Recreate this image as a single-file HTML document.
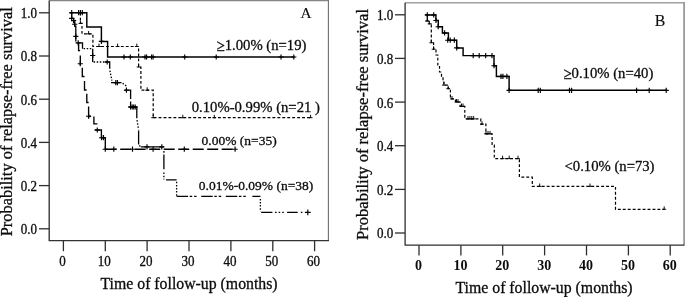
<!DOCTYPE html>
<html lang="en"><head><meta charset="utf-8"><title>Relapse-free survival</title>
<style>
html,body{margin:0;padding:0;background:#fff;}
body{width:685px;height:297px;overflow:hidden;}
svg{display:block;will-change:transform;}
text{font-family:'Liberation Serif','Times New Roman',serif;fill:#0c0c0c;stroke:#0c0c0c;stroke-width:0.3px;}
.tk{font-size:13.3px;}
.tkb{font-size:14.0px;font-weight:bold;stroke:none;}
.lb{font-size:14.7px;}
.ls{font-size:13.5px;}
.ax{font-size:15.8px;}
.ay{font-size:16.42px;}
.ayb{font-size:16.54px;}
.pn{font-size:15.3px;stroke-width:0.08px;}
</style></head><body>
<svg width="685" height="297" viewBox="0 0 685 297">
<rect x="0" y="0" width="685" height="297" fill="#fff"/>

<g id="panelA">
<path d="M49.2,0.5H328.4" fill="none" stroke="#858585" stroke-width="1.7"/>
<path d="M328.4,0V240.6" fill="none" stroke="#6e6e6e" stroke-width="1.1"/>
<path d="M49.2,0.4V240.6H329.0" fill="none" stroke="#333" stroke-width="1.35"/>
<path d="M39,12.8H49.2" stroke="#2e2e2e" stroke-width="1.3"/>
<text class="tk" transform="translate(37,18.2) scale(0.98,1.05)" text-anchor="end">1.0</text>
<path d="M39,56.0H49.2" stroke="#2e2e2e" stroke-width="1.3"/>
<text class="tk" transform="translate(37,61.4) scale(0.98,1.05)" text-anchor="end">0.8</text>
<path d="M39,99.2H49.2" stroke="#2e2e2e" stroke-width="1.3"/>
<text class="tk" transform="translate(37,104.6) scale(0.98,1.05)" text-anchor="end">0.6</text>
<path d="M39,142.4H49.2" stroke="#2e2e2e" stroke-width="1.3"/>
<text class="tk" transform="translate(37,147.8) scale(0.98,1.05)" text-anchor="end">0.4</text>
<path d="M39,185.6H49.2" stroke="#2e2e2e" stroke-width="1.3"/>
<text class="tk" transform="translate(37,191.0) scale(0.98,1.05)" text-anchor="end">0.2</text>
<path d="M39,228.8H49.2" stroke="#2e2e2e" stroke-width="1.3"/>
<text class="tk" transform="translate(37,234.2) scale(0.98,1.05)" text-anchor="end">0.0</text>
<path d="M63.4,240.6V251.2" stroke="#2e2e2e" stroke-width="1.3"/>
<text class="tk" transform="translate(62.4,265.8) scale(0.98,1.05)" text-anchor="middle">0</text>
<path d="M105.3,240.6V251.2" stroke="#2e2e2e" stroke-width="1.3"/>
<text class="tk" transform="translate(104.3,265.8) scale(0.98,1.05)" text-anchor="middle">10</text>
<path d="M147.1,240.6V251.2" stroke="#2e2e2e" stroke-width="1.3"/>
<text class="tk" transform="translate(146.1,265.8) scale(0.98,1.05)" text-anchor="middle">20</text>
<path d="M189.0,240.6V251.2" stroke="#2e2e2e" stroke-width="1.3"/>
<text class="tk" transform="translate(188.0,265.8) scale(0.98,1.05)" text-anchor="middle">30</text>
<path d="M230.9,240.6V251.2" stroke="#2e2e2e" stroke-width="1.3"/>
<text class="tk" transform="translate(229.9,265.8) scale(0.98,1.05)" text-anchor="middle">40</text>
<path d="M272.8,240.6V251.2" stroke="#2e2e2e" stroke-width="1.3"/>
<text class="tk" transform="translate(271.8,265.8) scale(0.98,1.05)" text-anchor="middle">50</text>
<path d="M314.6,240.6V251.2" stroke="#2e2e2e" stroke-width="1.3"/>
<text class="tk" transform="translate(313.6,265.8) scale(0.98,1.05)" text-anchor="middle">60</text>
<text class="ax" x="100.5" y="289.0">Time of follow-up (months)</text>
<text class="ay" transform="translate(12.3,236.3) rotate(-90)">Probability of relapse-free survival</text>
<text class="pn" x="300.6" y="17.8">A</text>
<text class="lb" transform="translate(216.6,50.8) scale(1,1.13)">≥</text>
<text class="lb" x="224.7" y="50.2">1.00% (n=19)</text>
<text class="lb" x="191.7" y="111.8">0.10%-0.99% (n=21 )</text>
<text class="ls" x="201.6" y="144.5">0.00% (n=35)</text>
<text class="ls" x="198.8" y="189.5">0.01%-0.09% (n=38)</text>
<path d="M69.7,12.7H86.8V27H101.4V41.4H107.6V57H294.5" fill="none" stroke="#000" stroke-width="1.45"/>
<path d="M69.1,12.7H74.3M71.7,10.1V15.3" stroke="#000" stroke-width="1.15" fill="none"/>
<path d="M76.0,12.7H81.2M78.6,10.1V15.3" stroke="#000" stroke-width="1.15" fill="none"/>
<path d="M77.8,12.7H83.0M80.4,10.1V15.3" stroke="#000" stroke-width="1.15" fill="none"/>
<path d="M79.7,12.7H84.9M82.3,10.1V15.3" stroke="#000" stroke-width="1.15" fill="none"/>
<path d="M98.8,41.4H104.0M101.4,38.8V44.0" stroke="#000" stroke-width="1.15" fill="none"/>
<path d="M121.4,57.0H126.6M124.0,54.4V59.6" stroke="#000" stroke-width="1.15" fill="none"/>
<path d="M127.7,57.0H132.9M130.3,54.4V59.6" stroke="#000" stroke-width="1.15" fill="none"/>
<path d="M142.4,57.0H147.6M145.0,54.4V59.6" stroke="#000" stroke-width="1.15" fill="none"/>
<path d="M144.0,57.0H149.2M146.6,54.4V59.6" stroke="#000" stroke-width="1.15" fill="none"/>
<path d="M149.0,57.0H154.2M151.6,54.4V59.6" stroke="#000" stroke-width="1.15" fill="none"/>
<path d="M150.5,57.0H155.7M153.1,54.4V59.6" stroke="#000" stroke-width="1.15" fill="none"/>
<path d="M182.1,57.0H187.3M184.7,54.4V59.6" stroke="#000" stroke-width="1.15" fill="none"/>
<path d="M213.6,57.0H218.8M216.2,54.4V59.6" stroke="#000" stroke-width="1.15" fill="none"/>
<path d="M278.4,57.0H283.6M281.0,54.4V59.6" stroke="#000" stroke-width="1.15" fill="none"/>
<path d="M291.2,57.0H296.4M293.8,54.4V59.6" stroke="#000" stroke-width="1.15" fill="none"/>
<path d="M80.4,12.7V23.4H82V33.9H92.9V46.5H138.6V67H140.9V90.2H153.2V117.7H310.8" fill="none" stroke="#000" stroke-width="1.2" stroke-dasharray="2.9 2.05"/>
<path d="M78.5,23.4H82.3M80.4,23.7V20.5" stroke="#000" stroke-width="0.95" fill="none"/>
<path d="M86.7,33.9H90.5M88.6,34.2V31.0" stroke="#000" stroke-width="0.95" fill="none"/>
<path d="M97.1,46.5H100.9M99.0,46.8V43.6" stroke="#000" stroke-width="0.95" fill="none"/>
<path d="M115.7,46.5H119.5M117.6,46.8V43.6" stroke="#000" stroke-width="0.95" fill="none"/>
<path d="M134.9,46.5H138.7M136.8,46.8V43.6" stroke="#000" stroke-width="0.95" fill="none"/>
<path d="M136.7,67.0H140.5M138.6,67.3V64.1" stroke="#000" stroke-width="0.95" fill="none"/>
<path d="M145.3,90.2H149.1M147.2,90.5V87.3" stroke="#000" stroke-width="0.95" fill="none"/>
<path d="M151.3,117.7H155.1M153.2,118.0V114.8" stroke="#000" stroke-width="0.95" fill="none"/>
<path d="M180.9,117.7H184.7M182.8,118.0V114.8" stroke="#000" stroke-width="0.95" fill="none"/>
<path d="M212.4,117.7H216.2M214.3,118.0V114.8" stroke="#000" stroke-width="0.95" fill="none"/>
<path d="M308.7,117.7H312.5M310.6,118.0V114.8" stroke="#000" stroke-width="0.95" fill="none"/>
<path d="M70,12.7H71.7V18.4H73.6V22.2H74.7V26.2H75.8V41.4M76.6,42.8H82.5V48.7" fill="none" stroke="#000" stroke-width="1.3"/>
<path d="M69.1,18.4H74.3M71.7,15.8V21.0" stroke="#000" stroke-width="1.15" fill="none"/>
<path d="M71.0,20.6H76.2M73.6,18.0V23.2" stroke="#000" stroke-width="1.15" fill="none"/>
<path d="M72.1,24.2H77.3M74.7,21.6V26.8" stroke="#000" stroke-width="1.15" fill="none"/>
<path d="M73.2,36.3H78.4M75.8,33.7V38.9" stroke="#000" stroke-width="1.15" fill="none"/>
<path d="M75.6,42.8H80.8M78.2,40.2V45.4" stroke="#000" stroke-width="1.15" fill="none"/>
<path d="M78.6,42.8V50.6H80.1 M80.3,55.5V65.3 M82.3,67.8V76.5H84.5 M84.5,81V90H86.6 M86.8,93.8V102.5H88.6 M88.6,106.5V118.3 M88.6,116.2H91 M93.9,116.4V123.9H97.4 M94.7,130H101.4V137.7H105.3V149.2" fill="none" stroke="#000" stroke-width="1.35"/>
<path d="M105.7,149.2H235.1" fill="none" stroke="#000" stroke-width="1.35" stroke-dasharray="11 3.5"/>
<path d="M77.7,63.7H82.9M80.3,61.1V66.3" stroke="#000" stroke-width="1.15" fill="none"/>
<path d="M86.0,116.2H91.2M88.6,113.6V118.8" stroke="#000" stroke-width="1.15" fill="none"/>
<path d="M94.7,130.0H99.9M97.3,127.4V132.6" stroke="#000" stroke-width="1.15" fill="none"/>
<path d="M99.0,137.7H104.2M101.6,135.1V140.3" stroke="#000" stroke-width="1.15" fill="none"/>
<path d="M100.9,137.7H106.1M103.5,135.1V140.3" stroke="#000" stroke-width="1.15" fill="none"/>
<path d="M102.7,149.2H107.9M105.3,146.6V151.8" stroke="#000" stroke-width="1.15" fill="none"/>
<path d="M111.2,149.2H116.4M113.8,146.6V151.8" stroke="#000" stroke-width="1.15" fill="none"/>
<path d="M129.9,149.2H135.1M132.5,146.6V151.8" stroke="#000" stroke-width="1.15" fill="none"/>
<path d="M150.5,149.2H155.7M153.1,146.6V151.8" stroke="#000" stroke-width="1.15" fill="none"/>
<path d="M181.7,149.2H186.9M184.3,146.6V151.8" stroke="#000" stroke-width="1.15" fill="none"/>
<path d="M232.5,149.2H237.7M235.1,146.6V151.8" stroke="#000" stroke-width="1.15" fill="none"/>
<path d="M92.7,48.7V62 M105,62H109.7V68.8 M111,82.6H121.5 M124.5,90.2H130.6V98.9 M130.6,101.6V107 M128.6,107H136.8V118.3 M138.6,130.6V144.4 M140.9,146.9H163.9 M163.9,151V152.8 M163.9,154.6V169.2 M166,179.8H176.6 M252.4,196.3H260.4 M261.2,212.4H272.4 M287.1,212.4H297.7" fill="none" stroke="#000" stroke-width="1.3"/>
<path d="M83.6,48.7H92 M93.6,62H105 M109.9,70.6L111.9,80.6 M122.6,83.2L127,86.6 M137,120.2L138.6,129.6 M139.2,145.6L140.9,146.9 M163.9,172.6V179.4 M176.6,181.8V196 M260.4,198.9V211.5" fill="none" stroke="#000" stroke-width="1.3" stroke-dasharray="1.5 1.6"/>
<path d="M176.6,196.3H250" fill="none" stroke="#000" stroke-width="1.3" stroke-dasharray="11.5 1.6 2.5 1.9 2.5 4.6"/>
<path d="M275,212.4H284M300.8,212.4H303" fill="none" stroke="#000" stroke-width="1.3" stroke-dasharray="1.6 2"/>
<path d="M90.1,55.5H95.3M92.7,52.9V58.1" stroke="#000" stroke-width="1.15" fill="none"/>
<path d="M104.6,62.0H109.8M107.2,59.4V64.6" stroke="#000" stroke-width="1.15" fill="none"/>
<path d="M113.2,82.6H118.4M115.8,80.0V85.2" stroke="#000" stroke-width="1.15" fill="none"/>
<path d="M114.8,82.6H120.0M117.4,80.0V85.2" stroke="#000" stroke-width="1.15" fill="none"/>
<path d="M123.8,90.2H129.0M126.4,87.6V92.8" stroke="#000" stroke-width="1.15" fill="none"/>
<path d="M128.0,107.0H133.2M130.6,104.4V109.6" stroke="#000" stroke-width="1.15" fill="none"/>
<path d="M129.6,107.0H134.8M132.2,104.4V109.6" stroke="#000" stroke-width="1.15" fill="none"/>
<path d="M131.1,107.0H136.3M133.7,104.4V109.6" stroke="#000" stroke-width="1.15" fill="none"/>
<path d="M132.6,107.0H137.8M135.2,104.4V109.6" stroke="#000" stroke-width="1.15" fill="none"/>
<path d="M144.4,146.9H149.6M147.0,144.3V149.5" stroke="#000" stroke-width="1.15" fill="none"/>
<path d="M159.2,146.9H164.4M161.8,144.3V149.5" stroke="#000" stroke-width="1.15" fill="none"/>
<path d="M304.9,212.4H310.7M307.8,209.5V215.3" stroke="#000" stroke-width="1.15" fill="none"/>
</g>
<g id="panelB">
<path d="M405.1,2.8H685" fill="none" stroke="#a0a0a0" stroke-width="1.6"/>
<path d="M684.1,2.0V245.2" fill="none" stroke="#9a9a9a" stroke-width="1.8"/>
<path d="M405.1,2.8V245.2H684.4" fill="none" stroke="#2e2e2e" stroke-width="1.3"/>
<path d="M395,14.8H405.1" stroke="#2e2e2e" stroke-width="1.3"/>
<text class="tk" transform="translate(393.2,20.2) scale(0.98,1.05)" text-anchor="end">1.0</text>
<path d="M395,58.4H405.1" stroke="#2e2e2e" stroke-width="1.3"/>
<text class="tk" transform="translate(393.2,63.8) scale(0.98,1.05)" text-anchor="end">0.8</text>
<path d="M395,102.1H405.1" stroke="#2e2e2e" stroke-width="1.3"/>
<text class="tk" transform="translate(393.2,107.5) scale(0.98,1.05)" text-anchor="end">0.6</text>
<path d="M395,145.7H405.1" stroke="#2e2e2e" stroke-width="1.3"/>
<text class="tk" transform="translate(393.2,151.1) scale(0.98,1.05)" text-anchor="end">0.4</text>
<path d="M395,189.4H405.1" stroke="#2e2e2e" stroke-width="1.3"/>
<text class="tk" transform="translate(393.2,194.8) scale(0.98,1.05)" text-anchor="end">0.2</text>
<path d="M395,233.0H405.1" stroke="#2e2e2e" stroke-width="1.3"/>
<text class="tk" transform="translate(393.2,238.4) scale(0.98,1.05)" text-anchor="end">0.0</text>
<path d="M419.0,245.2V255.4" stroke="#2e2e2e" stroke-width="1.3"/>
<text class="tkb" x="418.6" y="269.8" text-anchor="middle">0</text>
<path d="M460.9,245.2V255.4" stroke="#2e2e2e" stroke-width="1.3"/>
<text class="tkb" x="460.5" y="269.8" text-anchor="middle">10</text>
<path d="M502.7,245.2V255.4" stroke="#2e2e2e" stroke-width="1.3"/>
<text class="tkb" x="502.3" y="269.8" text-anchor="middle">20</text>
<path d="M544.6,245.2V255.4" stroke="#2e2e2e" stroke-width="1.3"/>
<text class="tkb" x="544.2" y="269.8" text-anchor="middle">30</text>
<path d="M586.5,245.2V255.4" stroke="#2e2e2e" stroke-width="1.3"/>
<text class="tkb" x="586.1" y="269.8" text-anchor="middle">40</text>
<path d="M628.4,245.2V255.4" stroke="#2e2e2e" stroke-width="1.3"/>
<text class="tkb" x="628.0" y="269.8" text-anchor="middle">50</text>
<path d="M670.2,245.2V255.4" stroke="#2e2e2e" stroke-width="1.3"/>
<text class="tkb" x="669.8" y="269.8" text-anchor="middle">60</text>
<text class="ax" x="455.5" y="292.9">Time of follow-up (months)</text>
<text class="ayb" transform="translate(367.9,239.9) rotate(-90)">Probability of relapse-free survival</text>
<text class="pn" style="font-size:15.9px" x="654.7" y="25.7">B</text>
<text class="lb" transform="translate(563.5,78.8) scale(1,1.13)">≥</text>
<text class="lb" x="571.6" y="78.2">0.10% (n=40)</text>
<text class="lb" x="564.5" y="170.6">&lt;0.10% (n=73)</text>
<path d="M425.2,14.9H435.9V20.5H438.3V26.7H442.4V32.9H448.4V40.2H456.7V47.9H463.1V55.6H494V65.7H496.4V76.4H509.1V90.3H666.2" fill="none" stroke="#000" stroke-width="1.45"/>
<path d="M424.7,14.9H429.9M427.3,12.3V17.5" stroke="#000" stroke-width="1.15" fill="none"/>
<path d="M431.1,14.9H436.3M433.7,12.3V17.5" stroke="#000" stroke-width="1.15" fill="none"/>
<path d="M433.4,20.5H438.6M436.0,17.9V23.1" stroke="#000" stroke-width="1.15" fill="none"/>
<path d="M435.6,26.7H440.8M438.2,24.1V29.3" stroke="#000" stroke-width="1.15" fill="none"/>
<path d="M442.0,32.9H447.2M444.6,30.3V35.5" stroke="#000" stroke-width="1.15" fill="none"/>
<path d="M445.1,40.2H450.3M447.7,37.6V42.8" stroke="#000" stroke-width="1.15" fill="none"/>
<path d="M447.6,40.2H452.8M450.2,37.6V42.8" stroke="#000" stroke-width="1.15" fill="none"/>
<path d="M451.7,40.2H456.9M454.3,37.6V42.8" stroke="#000" stroke-width="1.15" fill="none"/>
<path d="M454.1,47.9H459.3M456.7,45.3V50.5" stroke="#000" stroke-width="1.15" fill="none"/>
<path d="M470.6,55.6H475.8M473.2,53.0V58.2" stroke="#000" stroke-width="1.15" fill="none"/>
<path d="M476.6,55.6H481.8M479.2,53.0V58.2" stroke="#000" stroke-width="1.15" fill="none"/>
<path d="M483.1,55.6H488.3M485.7,53.0V58.2" stroke="#000" stroke-width="1.15" fill="none"/>
<path d="M489.4,55.6H494.6M492.0,53.0V58.2" stroke="#000" stroke-width="1.15" fill="none"/>
<path d="M491.4,65.7H496.6M494.0,63.1V68.3" stroke="#000" stroke-width="1.15" fill="none"/>
<path d="M498.4,76.4H503.6M501.0,73.8V79.0" stroke="#000" stroke-width="1.15" fill="none"/>
<path d="M500.3,76.4H505.5M502.9,73.8V79.0" stroke="#000" stroke-width="1.15" fill="none"/>
<path d="M504.3,76.4H509.5M506.9,73.8V79.0" stroke="#000" stroke-width="1.15" fill="none"/>
<path d="M506.5,90.3H511.7M509.1,87.7V92.9" stroke="#000" stroke-width="1.15" fill="none"/>
<path d="M535.6,90.3H540.8M538.2,87.7V92.9" stroke="#000" stroke-width="1.15" fill="none"/>
<path d="M537.7,90.3H542.9M540.3,87.7V92.9" stroke="#000" stroke-width="1.15" fill="none"/>
<path d="M566.9,90.3H572.1M569.5,87.7V92.9" stroke="#000" stroke-width="1.15" fill="none"/>
<path d="M569.0,90.3H574.2M571.6,87.7V92.9" stroke="#000" stroke-width="1.15" fill="none"/>
<path d="M634.0,90.3H639.2M636.6,87.7V92.9" stroke="#000" stroke-width="1.15" fill="none"/>
<path d="M646.6,90.3H651.8M649.2,87.7V92.9" stroke="#000" stroke-width="1.15" fill="none"/>
<path d="M663.6,90.3H668.8M666.2,87.7V92.9" stroke="#000" stroke-width="1.15" fill="none"/>
<path d="M427.3,14.9V21M425.4,21H429.3M429.3,21V23.9M427.8,23.9H431.6" fill="none" stroke="#000" stroke-width="1.15"/>
<path d="M431.3,24.6V42.8H433.6V49.2H436V55H437.8V65H439.5V72H441.5V77H443V82H443.9V85.1H448.2V88.7H450.4V98.9H455.5V102H460.1V106.4H464.8V118.9H480.8V124.2H485.9V133.8H492.1V145H494.3V158.6H519.4V177.1H532.3V186.4H615.5V209.3H664.2" fill="none" stroke="#000" stroke-width="1.2" stroke-dasharray="2.9 2.05"/>
<path d="M425.4,21.0H429.2M427.3,21.3V18.1" stroke="#000" stroke-width="0.95" fill="none"/>
<path d="M429.4,42.8H433.2M431.3,43.1V39.9" stroke="#000" stroke-width="0.95" fill="none"/>
<path d="M431.7,49.2H435.5M433.6,49.5V46.3" stroke="#000" stroke-width="0.95" fill="none"/>
<path d="M442.0,85.1H445.8M443.9,85.4V82.2" stroke="#000" stroke-width="0.95" fill="none"/>
<path d="M446.3,88.7H450.1M448.2,89.0V85.8" stroke="#000" stroke-width="0.95" fill="none"/>
<path d="M450.1,98.9H453.9M452.0,99.2V96.0" stroke="#000" stroke-width="0.95" fill="none"/>
<path d="M454.6,102.0H458.4M456.5,102.3V99.1" stroke="#000" stroke-width="0.95" fill="none"/>
<path d="M456.1,102.0H459.9M458.0,102.3V99.1" stroke="#000" stroke-width="0.95" fill="none"/>
<path d="M459.6,106.4H463.4M461.5,106.7V103.5" stroke="#000" stroke-width="0.95" fill="none"/>
<path d="M461.1,106.4H464.9M463.0,106.7V103.5" stroke="#000" stroke-width="0.95" fill="none"/>
<path d="M466.1,118.9H469.9M468.0,119.2V116.0" stroke="#000" stroke-width="0.95" fill="none"/>
<path d="M468.0,118.9H471.8M469.9,119.2V116.0" stroke="#000" stroke-width="0.95" fill="none"/>
<path d="M469.9,118.9H473.7M471.8,119.2V116.0" stroke="#000" stroke-width="0.95" fill="none"/>
<path d="M471.8,118.9H475.6M473.7,119.2V116.0" stroke="#000" stroke-width="0.95" fill="none"/>
<path d="M480.1,124.2H483.9M482.0,124.5V121.3" stroke="#000" stroke-width="0.95" fill="none"/>
<path d="M484.1,133.8H487.9M486.0,134.1V130.9" stroke="#000" stroke-width="0.95" fill="none"/>
<path d="M486.1,133.8H489.9M488.0,134.1V130.9" stroke="#000" stroke-width="0.95" fill="none"/>
<path d="M488.1,133.8H491.9M490.0,134.1V130.9" stroke="#000" stroke-width="0.95" fill="none"/>
<path d="M500.7,158.6H504.5M502.6,158.9V155.7" stroke="#000" stroke-width="0.95" fill="none"/>
<path d="M507.3,158.6H511.1M509.2,158.9V155.7" stroke="#000" stroke-width="0.95" fill="none"/>
<path d="M516.1,158.6H519.9M518.0,158.9V155.7" stroke="#000" stroke-width="0.95" fill="none"/>
<path d="M537.8,186.4H541.6M539.7,186.7V183.5" stroke="#000" stroke-width="0.95" fill="none"/>
<path d="M588.1,186.4H591.9M590.0,186.7V183.5" stroke="#000" stroke-width="0.95" fill="none"/>
<path d="M662.3,209.3H666.1M664.2,209.6V206.4" stroke="#000" stroke-width="0.95" fill="none"/>
</g>
</svg>
</body></html>
